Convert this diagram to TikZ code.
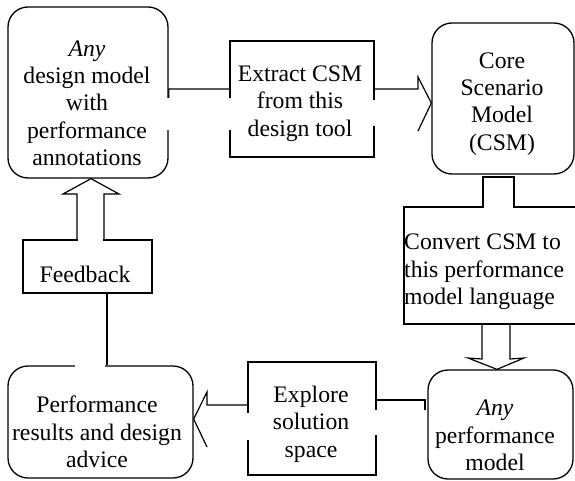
\documentclass[tikz,border=0pt]{standalone}
\usepackage{fontspec}
\setmainfont{Liberation Serif}
\pgfdeclarelayer{bg}
\pgfsetlayers{bg,main}
\begin{document}
\begin{tikzpicture}[x=1pt,y=-1pt,
  rbox/.style={draw, fill=white, rounded corners=20pt, line width=1.3pt, inner sep=0pt},
  sbox/.style={draw, fill=white, line width=1.2pt, inner sep=0pt},
  txt/.style={align=center, inner sep=0pt, font=\fontsize{23.7}{27.3}\selectfont},
  gapfill/.style={fill=white, draw=none},
  conn/.style={line width=1.2pt, line join=miter}]
\useasboundingbox (0,0) rectangle (575,481);
% boxes
\node[rbox, minimum width=160pt, minimum height=171pt] (design) at (88,92.5) {};
\node[sbox, minimum width=144pt, minimum height=116pt] (extract) at (302,99) {};
\node[rbox, minimum width=142pt, minimum height=151pt] (csm) at (503,98.5) {};
\node[sbox, minimum width=196pt, minimum height=117pt] (convert) at (502,265.5) {};
\node[rbox, minimum width=145pt, minimum height=109pt] (anyperf) at (500.5,424.5) {};
\node[sbox, minimum width=128pt, minimum height=113pt] (explore) at (312,418.5) {};
\node[rbox, minimum width=185pt, minimum height=112pt] (results) at (100.5,422) {};
\node[sbox, minimum width=129pt, minimum height=53pt] (feedback) at (87.5,266.5) {};
% gaps where the arrow shafts cross the box outlines
\fill[gapfill] (165,98) rectangle (171,130);
\fill[gapfill] (227,98) rectangle (233,130);
\fill[gapfill] (371,100) rectangle (377,126);
\fill[gapfill] (484,204) rectangle (513,210);
\fill[gapfill] (373,410) rectangle (379,435);
\fill[gapfill] (245,413) rectangle (251,440);
\fill[gapfill] (75,363) rectangle (105,369);
\fill[gapfill] (78,237) rectangle (103,243);
% texts
\node[txt] (designtxt) at (87,103) {\itshape Any\\design model\\with\\performance\\annotations};
\node[txt] (extracttxt) at (300,103.5) {Extract CSM\\from this\\design tool};
\node[txt] (csmtxt) at (502,104) {Core\\Scenario\\Model\\(CSM)};
\node[txt, align=left, anchor=west] (converttxt) at (404,272) {Convert CSM to\\this performance\\model language};
\node[txt] (anyperftxt) at (495,435.5) {\itshape Any\\performance\\model};
\node[txt] (resultstxt) at (97,432) {Performance\\results and design\\advice};
\node[txt] (exploretxt) at (311,424) {Explore\\solution\\space};
\node[txt, anchor=base] (feedbacktxt) at (85,282) {Feedback};
% connectors (behind the boxes)
\begin{pgfonlayer}{bg}
\draw[conn] (design.east |- 0,98) -- (design.east |- 0,89) -- (418,89) -- (418,77)
  -- (csm.west |- 0,103) -- (418,131);
\draw[conn] (convert.north -| 483,0) -- (483,177) -- (514,177) -- (convert.north -| 514,0);
\draw[conn] (convert.south -| 482,0) -- (482,359) -- (468,358) -- (anyperf.north -| 497,0)
  -- (524,358) -- (510,359) -- (convert.south -| 510,0);
\draw[conn] (425,410) -- (425,400) -- (explore.east |- 0,400);
\draw[conn] (explore.west |- 0,405) -- (207,405) -- (207,392) -- (results.east |- 0,419) -- (207,447);
\draw[conn] (results.north -| 107,0) -- (feedback.south -| 107,0);
\draw[conn] (feedback.north -| 77,0) -- (77,194) -- (63,194) -- (design.south -| 91,0)
  -- (119,194) -- (104,194) -- (feedback.north -| 104,0);
\end{pgfonlayer}
\end{tikzpicture}
\end{document}
